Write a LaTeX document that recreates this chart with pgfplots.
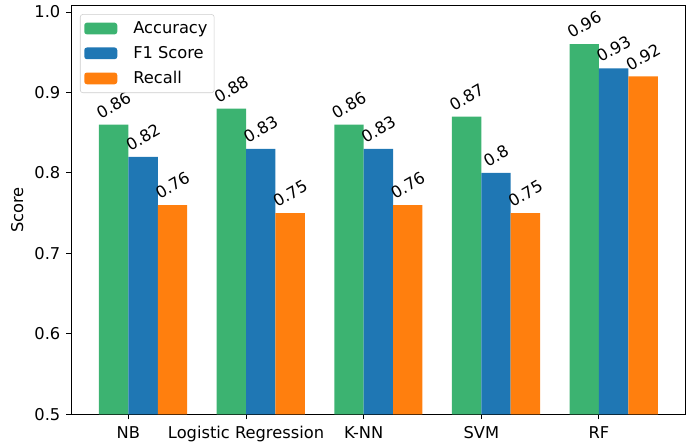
\documentclass[border=0pt]{standalone}
\usepackage{fontspec}
\setmainfont{DejaVu Sans}
\usepackage{pgfplots}
\pgfplotsset{compat=1.18}
\definecolor{cgreen}{HTML}{3CB371}
\definecolor{cblue}{HTML}{1F77B4}
\definecolor{corange}{HTML}{FF7F0E}
\begin{document}
\fontsize{12.2}{14.6}\selectfont
\begin{tikzpicture}
\begin{axis}[
  scale only axis,
  width=461pt, height=306.5pt,
  xmin=-0.4875, xmax=4.7375,
  ymin=0.5, ymax=1.008,
  ybar, bar width=0.25,
  xtick={0,1,2,3,4},
  xticklabels={NB,Logistic Regression,K-NN,SVM,RF},
  ytick={0.5,0.6,0.7,0.8,0.9,1.0},
  yticklabels={0.5,0.6,0.7,0.8,0.9,1.0},
  tick align=outside, xtick pos=bottom, ytick pos=left,
  major tick length=3.75pt,
  tick style={black, line width=0.75pt},
  axis line style={line width=0.75pt},
  /pgf/number format/assume math mode=true,
  ticklabel style={font=\fontsize{12.2}{14.6}\selectfont},
  xticklabel style={yshift=-1pt},
  ylabel={Score},
  ylabel style={font=\fontsize{12.2}{14.6}\selectfont},
  nodes near coords={\rotatebox{30}{\pgfmathprintnumber{\pgfplotspointmeta}}},
  every node near coord/.append style={anchor=south, inner sep=0pt, yshift=3.7pt, font=\fontsize{12.2}{14.6}\selectfont, black},
  legend style={at={(0.0146,0.979)}, anchor=north west, draw=white!80!black, rounded corners=2pt, fill=white, font=\fontsize{12.2}{14.6}\selectfont, row sep=3.8pt, inner xsep=3pt, inner ysep=3.2pt,
    /tikz/every odd column/.append style={column sep=10pt}},
  legend cell align=left,
  clip=false,
]
\addplot[fill=cgreen, draw=none, bar shift=-0.125,
  legend image code/.code={\fill[cgreen] (0pt,-4.4pt) rectangle (24.75pt,4.4pt);}]
  coordinates {(0,0.86) (1,0.88) (2,0.86) (3,0.87) (4,0.96)};
\addplot[fill=cblue, draw=none, bar shift=0.125,
  legend image code/.code={\fill[cblue] (0pt,-4.4pt) rectangle (24.75pt,4.4pt);}]
  coordinates {(0,0.82) (1,0.83) (2,0.83) (3,0.80) (4,0.93)};
\addplot[fill=corange, draw=none, bar shift=0.375,
  legend image code/.code={\fill[corange] (0pt,-4.4pt) rectangle (24.75pt,4.4pt);}]
  coordinates {(0,0.76) (1,0.75) (2,0.76) (3,0.75) (4,0.92)};
\legend{Accuracy,F1 Score,Recall}
\end{axis}
\path ([shift={(-53.25pt,-23pt)}]current axis.south west) rectangle ([shift={(6.2pt,4.2pt)}]current axis.north east);
\end{tikzpicture}
\end{document}
